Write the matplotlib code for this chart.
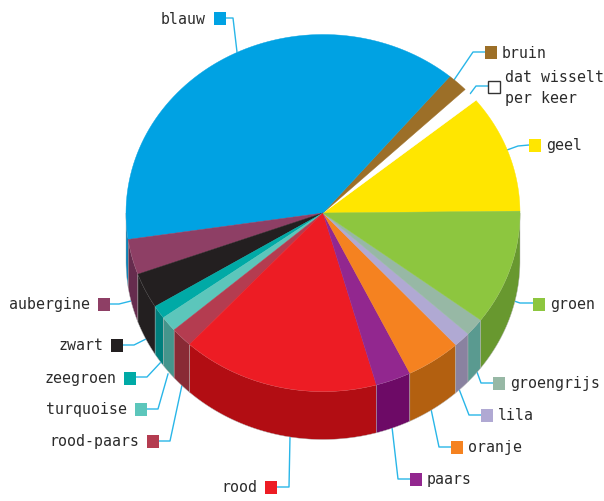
import matplotlib
matplotlib.use('Agg')
import matplotlib.pyplot as plt
import numpy as np

# slices, counterclockwise from the geel/groen edge (percent)
names = ['geel', 'wit', 'bruin', 'blauw', 'aubergine', 'zwart', 'zeegroen', 'turquoise',
         'rood-paars', 'rood', 'paars', 'oranje', 'lila', 'groengrijs', 'groen']
shares = [10.7, 1.3, 1.7, 38.5, 3.2, 3.2, 1.2, 1.4, 1.8, 16.2, 2.9, 4.5, 1.4, 1.6, 10.4]
top_colors = ['#ffe600', '#ffffff', '#9c6f28', '#00a2e3', '#8e3f65', '#231f20', '#00aaa6', '#5cc6bb',
              '#b43c50', '#ed1c24', '#92278f', '#f58220', '#b0a9d3', '#97b8a5', '#8dc63f']
side_colors = ['#c9b500', '#ffffff', '#7a5620', '#0080b8', '#662c4e', '#231f20', '#007f7d', '#44958c',
               '#892a35', '#b20d13', '#6d0a66', '#b36010', '#8a82a0', '#5a9a90', '#68982f']

# legend: label, square left, square top, text anchor, leader line
legend = [
    ('blauw', 214, 13, 'left', [(226, 19), (233, 19), (237, 53)]),
    ('bruin', 485, 47, 'right', [(485, 53), (473, 53), (454, 81)]),
    ('dat wisselt\nper keer', 488, 82, 'right', [(488, 87), (476, 87), (470, 95)]),
    ('geel', 529, 140, 'right', [(529, 146), (518, 147), (507, 151)]),
    ('groen', 533, 299, 'right', [(533, 304), (520, 304), (514, 302)]),
    ('groengrijs', 493, 378, 'right', [(493, 384), (481, 384), (477, 373)]),
    ('lila', 481, 410, 'right', [(481, 416), (469, 416), (459, 390)]),
    ('oranje', 451, 442, 'right', [(451, 448), (439, 448), (431, 410)]),
    ('paars', 410, 474, 'right', [(410, 480), (398, 480), (392, 428)]),
    ('rood', 265, 482, 'left', [(277, 488), (289, 488), (290, 438)]),
    ('rood-paars', 147, 436, 'left', [(159, 442), (170, 442), (182, 386)]),
    ('turquoise', 135, 404, 'left', [(147, 410), (158, 410), (168, 375)]),
    ('zeegroen', 124, 373, 'left', [(136, 378), (147, 378), (161, 363)]),
    ('zwart', 111, 340, 'left', [(123, 346), (134, 346), (146, 340)]),
    ('aubergine', 98, 299, 'left', [(110, 305), (119, 305), (131, 302)]),
]
legend_colors = {'blauw': '#00a2e3', 'bruin': '#9c6f28', 'dat wisselt\nper keer': '#ffffff', 'geel': '#ffe600',
                 'groen': '#8dc63f', 'groengrijs': '#97b8a5', 'lila': '#b0a9d3', 'oranje': '#f58220',
                 'paars': '#92278f', 'rood': '#ed1c24', 'rood-paars': '#b43c50', 'turquoise': '#5cc6bb',
                 'zeegroen': '#00aaa6', 'zwart': '#231f20', 'aubergine': '#8e3f65'}

cx, cy = 323, 214
rx, ry = 197, 178.5
depth = 48
start = 0.6
line_blue = '#29b6e8'

fig = plt.figure(figsize=(6.04, 5.02), dpi=100)
ax = fig.add_axes([0, 0, 1, 1])
ax.set_xlim(0, 604)
ax.set_ylim(502, 0)
ax.axis('off')

# angles of the slice edges
edges = start + np.cumsum([0] + shares) / sum(shares) * 360


def rim(a, b):
    t = np.radians(np.linspace(a, b, 80))
    return cx + rx * np.cos(t), cy - ry * np.sin(t)


# leader lines go under the pie
for label, sx, sy, side, pts in legend:
    ax.plot([p[0] for p in pts], [p[1] for p in pts], color=line_blue, lw=1, zorder=1)

# the visible wall, only the front half of the rim
for i in range(len(names)):
    a = max(edges[i], 180)
    b = min(edges[i + 1], 360)
    if b > a:
        x, y = rim(a, b)
        ax.fill(np.r_[x, x[::-1]], np.r_[y, y[::-1] + depth], color=side_colors[i], lw=0.3,
                ec='#b5b5b5', zorder=2)
# piece of groen right of 360
x, y = rim(360, edges[0] + 360)
ax.fill(np.r_[x, x[::-1]], np.r_[y, y[::-1] + depth], color=side_colors[-1], lw=0, zorder=2)

# top of the pie
for i in range(len(names)):
    x, y = rim(edges[i], edges[i + 1])
    ax.fill(np.r_[cx, x], np.r_[cy, y], color=top_colors[i], lw=0.3, ec=top_colors[i], zorder=3)

# legend squares and labels
for label, sx, sy, side, pts in legend:
    white = legend_colors[label] == '#ffffff'
    ax.add_patch(plt.Rectangle((sx, sy), 12, 13 if not white else 12, fc=legend_colors[label],
                               ec='#333333' if white else 'none', lw=1, zorder=4))
    if side == 'right':
        ax.text(sx + 17, sy + 6, label, ha='left', va='center', family='DejaVu Sans Mono',
                fontsize=10.7, color='#2b2b2b', linespacing=1.55, zorder=5)
    else:
        ax.text(sx - 8, sy + 6, label, ha='right', va='center', family='DejaVu Sans Mono',
                fontsize=10.7, color='#2b2b2b', zorder=5)

fig.savefig('out.png', dpi=100)
plt.close()
